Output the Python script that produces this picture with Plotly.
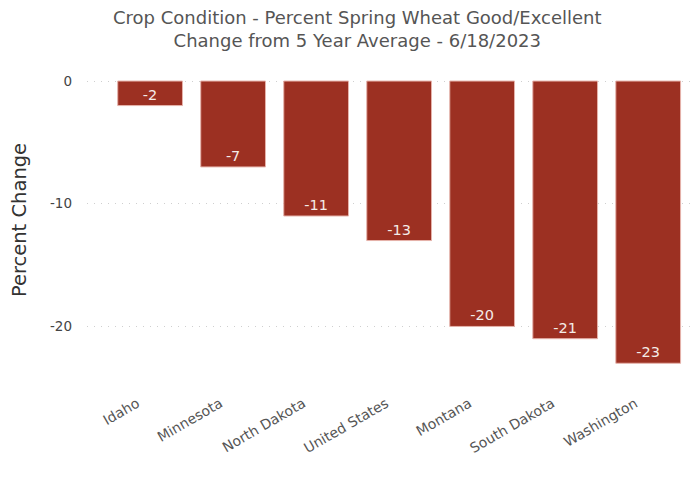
import plotly.graph_objects as go

states = ["Idaho", "Minnesota", "North Dakota", "United States", "Montana", "South Dakota", "Washington"]
change = [-2, -7, -11, -13, -20, -21, -23]
y_ticks = [0, -10, -20]

FONT = "DejaVu Sans"

fig = go.Figure()
fig.add_trace(go.Bar(
    x=states, y=change,
    marker=dict(color="#9c3022", line=dict(color="#e6b3ab", width=1)),
    text=[str(v) for v in change],
    textposition="inside", insidetextanchor="end",
    textfont=dict(family=FONT, size=14.5, color="#f4ece8"),
    textangle=0,
))

fig.update_layout(
    width=700, height=485,
    paper_bgcolor="white", plot_bgcolor="white",
    margin=dict(l=74, r=10, t=62, b=123),
    title=dict(text="Crop Condition - Percent Spring Wheat Good/Excellent<br>Change from 5 Year Average - 6/18/2023",
               x=0.499, xanchor="center", y=0.967, yanchor="top",
               font=dict(family=FONT, size=18, color="#555555")),
    font=dict(family=FONT),
    bargap=0.22,
    showlegend=False,
)
fig.update_xaxes(range=[-0.76, 6.6], tickangle=-30, showgrid=False, zeroline=False,
                 showline=False, ticks="", ticklabelstandoff=22, ticklabelshift=-13,
                 tickfont=dict(family=FONT, size=14, color="#555555"))
fig.update_yaxes(range=[-23.55, 0.9], tickvals=y_ticks, ticktext=[str(v) for v in y_ticks],
                 showgrid=True, gridcolor="#cfcfcf", griddash="1px,6px", gridwidth=1,
                 zeroline=False, showline=False, ticklabelstandoff=14,
                 tickfont=dict(family=FONT, size=13.5, color="#444444"),
                 title=dict(text="Percent Change", font=dict(family=FONT, size=19.5, color="#333333"), standoff=18))

fig.write_html("out.html")
